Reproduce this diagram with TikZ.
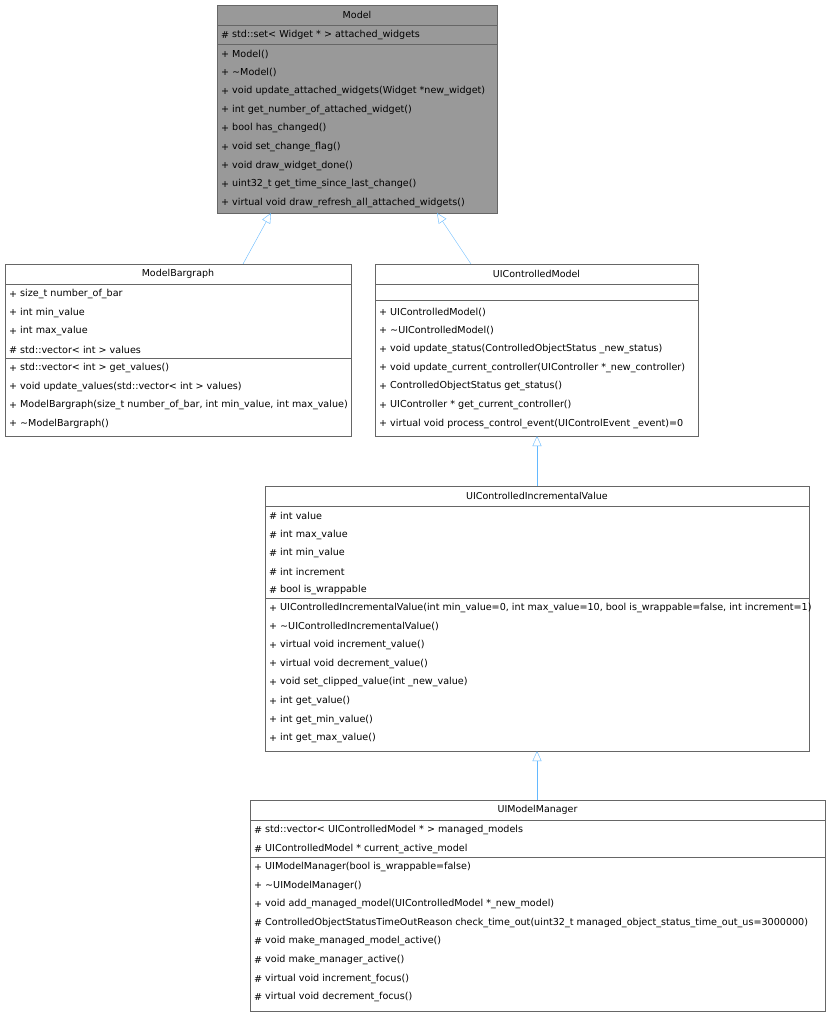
\documentclass[tikz,border=0pt]{standalone}
\usepackage{fontspec}
\setmainfont{DejaVu Sans}
\usetikzlibrary{arrows.meta}
\definecolor{edgeblue}{HTML}{63B8FF}
\definecolor{boxgray}{HTML}{999999}
\definecolor{linegray}{HTML}{666666}
% one class box: name, left, top, width, height, fill
\newcommand\classbox[6]{%
  \node[box,fill=#6,minimum width=#4pt,minimum height=#5pt] (#1) at (#2,#3) {};
  \node[classname] (#1-name) at (#2+#4/2,#3+10) {\csname name#1\endcsname};
  \draw[linegray] (#2,#3+20) -- (#2+#4,#3+20);
}
% member rows: left, top of section, list of visibility/text
\newcommand\members[3]{%
  \foreach \vis/\txt [count=\i from 0] in {#3}{
    \node[member] at (#1+4,#2+10+18.6*\i) {\vis};
    \node[member] at (#1+15,#2+10+18.6*\i) {\txt};
  }
}
\begin{document}
\begin{tikzpicture}[x=1pt,y=-1pt,
  box/.style={draw=linegray,anchor=north west,inner sep=0,outer sep=0},
  classname/.style={inner sep=0,font=\fontsize{9.5}{10}\selectfont},
  member/.style={anchor=west,inner sep=0,font=\fontsize{9.6}{10}\selectfont},
  inherit/.style={draw=edgeblue,-{Triangle[open,length=10pt,width=9pt]}}]
\useasboundingbox (0,0) rectangle (830,1016);
\def\namemodel{Model}
\def\namebar{ModelBargraph}
\def\nameuicm{UIControlledModel}
\def\nameuiciv{UIControlledIncrementalValue}
\def\nameuimm{UIModelManager}

% Model
\classbox{model}{217}{5}{280}{208}{boxgray}
\draw[linegray] (217,44) -- (497,44);
\members{217}{25}{\#/{std::set< Widget * > attached\_widgets}}
\members{217}{44}{+/{Model()},+/{\textasciitilde Model()},
  +/{void update\_attached\_widgets(Widget *new\_widget)},
  +/{int get\_number\_of\_attached\_widget()},+/{bool has\_changed()},
  +/{void set\_change\_flag()},+/{void draw\_widget\_done()},
  +/{uint32\_t get\_time\_since\_last\_change()},
  +/{virtual void draw\_refresh\_all\_attached\_widgets()}}

% ModelBargraph
\classbox{bar}{5}{264}{346}{172}{white}
\draw[linegray] (5,358) -- (351,358);
\members{5}{284}{+/{size\_t number\_of\_bar},+/{int min\_value},+/{int max\_value},
  \#/{std::vector< int > values}}
\members{5}{358}{+/{std::vector< int > get\_values()},
  +/{void update\_values(std::vector< int > values)},
  +/{ModelBargraph(size\_t number\_of\_bar, int min\_value, int max\_value)},
  +/{\textasciitilde ModelBargraph()}}

% UIControlledModel
\classbox{uicm}{375}{264}{323}{172}{white}
\draw[linegray] (375,300) -- (698,300);
\members{375}{302}{+/{UIControlledModel()},+/{\textasciitilde UIControlledModel()},
  +/{void update\_status(ControlledObjectStatus \_new\_status)},
  +/{void update\_current\_controller(UIController *\_new\_controller)},
  +/{ControlledObjectStatus get\_status()},
  +/{UIController * get\_current\_controller()},
  +/{virtual void process\_control\_event(UIControlEvent \_event)=0}}

% UIControlledIncrementalValue
\classbox{uiciv}{265}{486}{544}{265}{white}
\draw[linegray] (265,598) -- (809,598);
\members{265}{506}{\#/{int value},\#/{int max\_value},\#/{int min\_value},
  \#/{int increment},\#/{bool is\_wrappable}}
\members{265}{598}{+/{UIControlledIncrementalValue(int min\_value=0, int max\_value=10, bool is\_wrappable=false, int increment=1)},
  +/{\textasciitilde UIControlledIncrementalValue()},
  +/{virtual void increment\_value()},+/{virtual void decrement\_value()},
  +/{void set\_clipped\_value(int \_new\_value)},+/{int get\_value()},
  +/{int get\_min\_value()},+/{int get\_max\_value()}}

% UIModelManager
\classbox{uimm}{250}{800}{575}{211}{white}
\draw[linegray] (250,857) -- (825,857);
\members{250}{820}{\#/{std::vector< UIControlledModel * > managed\_models},
  \#/{UIControlledModel * current\_active\_model}}
\members{250}{857}{+/{UIModelManager(bool is\_wrappable=false)},
  +/{\textasciitilde UIModelManager()},
  +/{void add\_managed\_model(UIControlledModel *\_new\_model)},
  \#/{ControlledObjectStatusTimeOutReason check\_time\_out(uint32\_t managed\_object\_status\_time\_out\_us=3000000)},
  \#/{void make\_managed\_model\_active()},\#/{void make\_manager\_active()},
  \#/{virtual void increment\_focus()},\#/{virtual void decrement\_focus()}}

% inheritance
\coordinate (bar-top) at (243,264);
\coordinate (model-left) at (271,213);
\coordinate (uicm-top) at (471,264);
\coordinate (model-right) at (437,213);
\coordinate (uiciv-top) at (537,486);
\coordinate (uicm-bot) at (537,436);
\coordinate (uimm-top) at (537,800);
\coordinate (uiciv-bot) at (537,751);
\draw[inherit] (bar-top) -- (model-left);
\draw[inherit] (uicm-top) -- (model-right);
\draw[inherit] (uiciv-top) -- (uicm-bot);
\draw[inherit] (uimm-top) -- (uiciv-bot);
\end{tikzpicture}
\end{document}
